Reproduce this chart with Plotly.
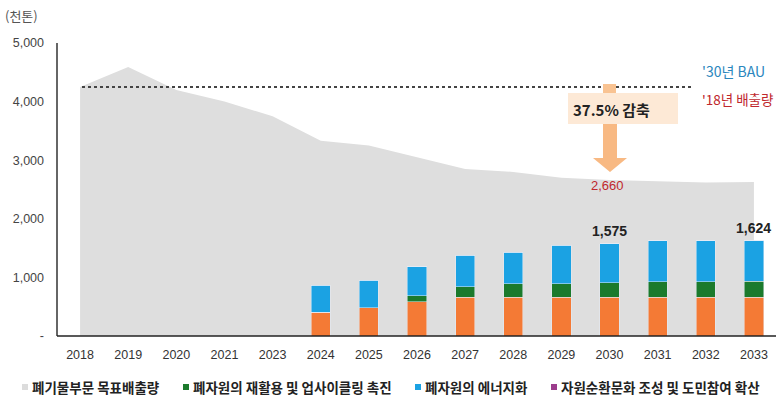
import plotly.graph_objects as go

years = ["2018", "2019", "2020", "2021", "2023", "2024", "2025", "2026",
         "2027", "2028", "2029", "2030", "2031", "2032", "2033"]
target = [4250, 4590, 4200, 4000, 3750, 3330, 3250, 3050, 2850, 2800, 2700, 2660, 2640, 2620, 2630]
orange = [None, None, None, None, None, 405, 483, 585, 660, 660, 660, 660, 660, 660, 660]
recycle = [None, None, None, None, None, 0, 0, 100, 180, 230, 230, 245, 270, 270, 275]
energy = [None, None, None, None, None, 460, 467, 500, 540, 540, 660, 670, 694, 694, 689]
culture = [None, None, None, None, None, 0, 0, 0, 0, 0, 0, 0, 0, 0, 0]
bau_2018 = 4250
totals = {"2030": "1,575", "2033": "1,624"}
yticks = [0, 1000, 2000, 3000, 4000, 5000]
yticktext = ["-", "1,000", "2,000", "3,000", "4,000", "5,000"]
legend_names = ["폐기물부문 목표배출량", "폐자원의 재활용 및 업사이클링 촉진",
                "폐자원의 에너지화", "자원순환문화 조성 및 도민참여 확산"]
legend_colors = ["#dcdcdc", "#1b7a2c", "#1ba2e3", "#9c3c8c"]

L, R, T, B = 56, 3, 43, 65
W, H = 781, 401
PW, PH = W - L - R, H - T - B

def px(x):
    return (x - L) / PW

def py(y):
    return (H - B - y) / PH

def yv(pyx):
    return (336 - pyx) / 293 * 5000

font_k = "Noto Sans CJK KR, Noto Sans, sans-serif"

fig = go.Figure()
fig.add_trace(go.Scatter(x=years, y=target, mode="lines", fill="tozeroy",
                         line=dict(width=0, color="#dddddd"), fillcolor="#dedede",
                         name=legend_names[0], showlegend=False))
bar_kw = dict(width=0.4, xaxis="x", yaxis="y2", showlegend=False)
fig.add_trace(go.Bar(x=years, y=orange, marker_color="#f47a35", name="기타", **bar_kw))
fig.add_trace(go.Bar(x=years, y=recycle, marker_color=legend_colors[1], name=legend_names[1], **bar_kw))
fig.add_trace(go.Bar(x=years, y=energy, marker_color=legend_colors[2], name=legend_names[2], **bar_kw))
fig.add_trace(go.Bar(x=years, y=culture, marker_color=legend_colors[3], name=legend_names[3], **bar_kw))

shapes = []
# axis lines
shapes.append(dict(type="line", xref="paper", yref="paper", x0=px(57), x1=px(57),
                   y0=0, y1=1, line=dict(color="#333333", width=1.5), layer="above"))
shapes.append(dict(type="line", xref="paper", yref="paper", x0=px(57), x1=px(776),
                   y0=0, y1=0, line=dict(color="#222222", width=1.5), layer="above"))
shapes.append(dict(type="line", xref="paper", yref="y", x0=px(82), x1=px(693),
                   y0=bau_2018, y1=bau_2018, line=dict(color="#444444", width=2, dash="dot")))
shapes.append(dict(type="rect", xref="paper", yref="y", x0=px(568), x1=px(678),
                   y0=yv(124), y1=yv(93), fillcolor="#fde9d6", line=dict(width=0), layer="above"))
shapes.append(dict(type="rect", xref="paper", yref="y", x0=px(603), x1=px(616),
                   y0=yv(93), y1=yv(84), fillcolor="#f9c392", line=dict(width=0), layer="above"))
pts = [(603, 124), (617, 124), (617, 158), (627, 158), (610, 172), (593, 158), (603, 158)]
path = "M " + " L ".join(f"{px(a)},{yv(b)}" for a, b in pts) + " Z"
shapes.append(dict(type="path", xref="paper", yref="y", path=path,
                   fillcolor="#f8b983", line=dict(width=0), layer="above"))

annotations = [
    dict(text="(천톤)", xref="paper", yref="paper", x=px(3), y=py(16),
         xanchor="left", yanchor="middle", showarrow=False,
         font=dict(size=13, color="#555555", family=font_k)),
    dict(text="<b>37.5% 감축</b>", xref="paper", yref="y", x=px(611), y=yv(109),
         xanchor="center", yanchor="middle", showarrow=False,
         font=dict(size=15, color="#222222", family=font_k)),
    dict(text="2,660", xref="paper", yref="y", x=px(607), y=yv(185),
         xanchor="center", yanchor="middle", showarrow=False,
         font=dict(size=13, color="#c0282d", family="Liberation Sans, Arial")),
    dict(text="'30년 BAU", xref="paper", yref="y", x=px(700), y=yv(71),
         xanchor="left", yanchor="middle", showarrow=False,
         font=dict(size=14, color="#2a86bd", family=font_k)),
    dict(text="'18년 배출량", xref="paper", yref="y", x=px(700), y=yv(99),
         xanchor="left", yanchor="middle", showarrow=False,
         font=dict(size=13.5, color="#c0282d", family=font_k)),
]
for yr, txt in totals.items():
    i = years.index(yr)
    tot = orange[i] + recycle[i] + energy[i]
    annotations.append(dict(text=f"<b>{txt}</b>", xref="x", yref="y", x=i, y=tot,
                            xanchor="center", yanchor="bottom", yshift=3, showarrow=False,
                            font=dict(size=14, color="#222222", family="Liberation Sans, Arial")))

# legend (manual, compact like the original)
leg_sq_x = [22, 183, 415, 551]
for name, col, sx in zip(legend_names, legend_colors, leg_sq_x):
    shapes.append(dict(type="rect", xref="paper", yref="paper", x0=px(sx), x1=px(sx + 6),
                       y0=py(390), y1=py(384), fillcolor=col, line=dict(width=0)))
    annotations.append(dict(text=f"<b>{name}</b>", xref="paper", yref="paper", x=px(sx + 8),
                            y=py(387), xanchor="left", yanchor="middle", showarrow=False,
                            font=dict(size=13.5, color="#222222", family=font_k)))

fig.update_layout(
    width=W, height=H, margin=dict(l=L, r=R, t=T, b=B, autoexpand=False),
    paper_bgcolor="white", plot_bgcolor="white",
    barmode="stack", showlegend=False,
    shapes=shapes, annotations=annotations,
    xaxis=dict(type="category", range=[-0.5, 14.5], showgrid=False, showline=False,
               ticks="", ticklabelstandoff=9,
               tickfont=dict(size=12.5, color="#333333",
                             family="Liberation Sans Narrow, Arial Narrow, Liberation Sans")),
    yaxis=dict(range=[0, 5000], showgrid=False, showline=False,
               tickvals=yticks, ticktext=yticktext, ticks="",
               ticklabelstandoff=11, zeroline=False,
               tickfont=dict(size=12.5, color="#444444", family="Liberation Sans, Arial")),
    yaxis2=dict(range=[0, 5000], overlaying="y", visible=False, showgrid=False, zeroline=False),
)
fig.write_html("out.html", config={"displayModeBar": False},
               post_script="document.body.style.margin='0';")
